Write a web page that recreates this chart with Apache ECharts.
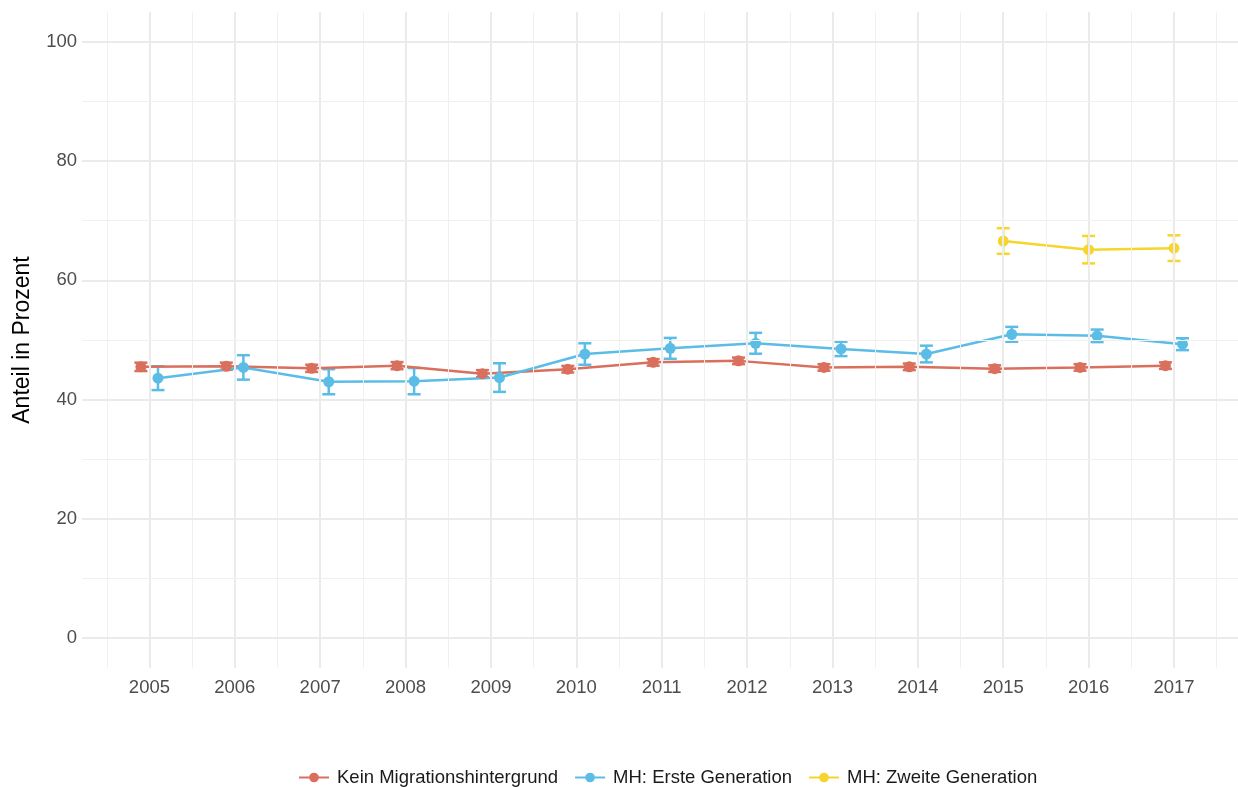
<!DOCTYPE html>
<html>
<head>
<meta charset="utf-8">
<script src="https://cdn.jsdelivr.net/npm/echarts@6/dist/echarts.min.js"></script>
<style>html,body{margin:0;padding:0;background:#fff}#c{width:1238px;height:787px}</style>
</head>
<body>
<div id="c"></div>
<script>
const years = [2005,2006,2007,2008,2009,2010,2011,2012,2013,2014,2015,2016,2017];
const keinMean = [45.5,45.6,45.25,45.7,44.35,45.1,46.25,46.5,45.4,45.5,45.2,45.4,45.7];
const keinErr  = [0.7,0.6,0.6,0.6,0.6,0.55,0.55,0.55,0.55,0.55,0.55,0.55,0.55];
const ersteMean = [43.6,45.4,43.0,43.1,43.7,47.65,48.6,49.45,48.5,47.65,50.95,50.7,49.3];
const ersteErr  = [2.0,2.05,2.1,2.2,2.4,1.8,1.75,1.75,1.2,1.4,1.25,1.05,1.0];
const zweiteYears = [2015,2016,2017];
const zweiteMean = [66.6,65.15,65.4];
const zweiteErr  = [2.15,2.3,2.15];
const yTicks = [0,20,40,60,80,100];
const yMinor = [10,30,50,70,90];
const seriesNames = ['Kein Migrationshintergrund','MH: Erste Generation','MH: Zweite Generation'];
const colors = ['#D96F5C','#5BBDE6','#F5D52E'];
const dodge = [-0.1, 0.1, 0];

const xMinor = years.map(y => y - 0.5).concat([years[years.length-1] + 0.5]);

function pts(xs, ms, off){ return xs.map((x,i)=>[x+off, ms[i]]); }
function errs(xs, ms, es, off){ return xs.map((x,i)=>[x+off, ms[i]-es[i], ms[i]+es[i]]); }

function errSeries(name, data, color){
  return {
    type:'custom', name: name + '_err', z: 3,
    data: data,
    encode:{x:0, y:[1,2]},
    renderItem: function(params, api){
      const x = api.value(0), lo = api.value(1), hi = api.value(2);
      const pLo = api.coord([x, lo]), pHi = api.coord([x, hi]);
      const hw = 6.5;
      const st = {stroke: color, lineWidth: 2.5};
      return {type:'group', children:[
        {type:'line', shape:{x1:pLo[0], y1:pLo[1], x2:pHi[0], y2:pHi[1]}, style:st},
        {type:'line', shape:{x1:pLo[0]-hw, y1:pLo[1], x2:pLo[0]+hw, y2:pLo[1]}, style:st},
        {type:'line', shape:{x1:pHi[0]-hw, y1:pHi[1], x2:pHi[0]+hw, y2:pHi[1]}, style:st}
      ]};
    }
  };
}
function lineSeries(name, data, color){
  return {
    type:'line', name:name, data:data, z:4,
    symbol:'circle', symbolSize:11, showSymbol:true,
    itemStyle:{color:color}, lineStyle:{color:color, width:2.5},
    emphasis:{disabled:true}, animation:false
  };
}

const gridLineSeries = {
  type:'line', data:[], silent:true, z:1,
  markLine:{
    silent:true, symbol:'none', label:{show:false}, animation:false,
    data: []
      .concat(years.map(y=>({xAxis:y, lineStyle:{color:'#EBEBEB', width:2, type:'solid'}})))
      .concat(xMinor.map(y=>({xAxis:y, lineStyle:{color:'#F0F0F0', width:1, type:'solid'}})))
      .concat(yTicks.map(v=>({yAxis:v, lineStyle:{color:'#EBEBEB', width:2, type:'solid'}})))
      .concat(yMinor.map(v=>({yAxis:v, lineStyle:{color:'#F0F0F0', width:1, type:'solid'}})))
  }
};

const option = {
  animation:false,
  backgroundColor:'#ffffff',
  textStyle:{fontFamily:'Liberation Sans, Arial, sans-serif'},
  grid:{left:82, right:0, top:12, bottom:119, containLabel:false},
  xAxis:{
    type:'value', min:2004.21, max:2017.75,
    axisLine:{show:false}, axisTick:{show:false}, splitLine:{show:false},
    axisLabel:{customValues: years, formatter: v => String(Math.round(v)), color:'#4D4D4D', fontSize:18.5, margin:10}
  },
  yAxis:{
    type:'value', min:-5, max:105,
    name:'Anteil in Prozent', nameLocation:'middle', nameRotate:90, nameGap:48,
    nameTextStyle:{color:'#000', fontSize:23},
    axisLine:{show:false}, axisTick:{show:false}, splitLine:{show:false},
    axisLabel:{customValues: yTicks, color:'#4D4D4D', fontSize:18.5, margin:5}
  },
  legend:{
    data: seriesNames, left:293, top:763, itemWidth:30, itemHeight:12, itemGap:16,
    textStyle:{color:'#1A1A1A', fontSize:18.5, padding:[0,0,0,3]}
  },
  series:[
    gridLineSeries,
    errSeries(seriesNames[0], errs(years, keinMean, keinErr, dodge[0]), colors[0]),
    lineSeries(seriesNames[0], pts(years, keinMean, dodge[0]), colors[0]),
    errSeries(seriesNames[1], errs(years, ersteMean, ersteErr, dodge[1]), colors[1]),
    lineSeries(seriesNames[1], pts(years, ersteMean, dodge[1]), colors[1]),
    errSeries(seriesNames[2], errs(zweiteYears, zweiteMean, zweiteErr, dodge[2]), colors[2]),
    lineSeries(seriesNames[2], pts(zweiteYears, zweiteMean, dodge[2]), colors[2])
  ]
};
const chart = echarts.init(document.getElementById('c'), null, {renderer:'canvas'});
chart.setOption(option);
</script>
</body>
</html>
